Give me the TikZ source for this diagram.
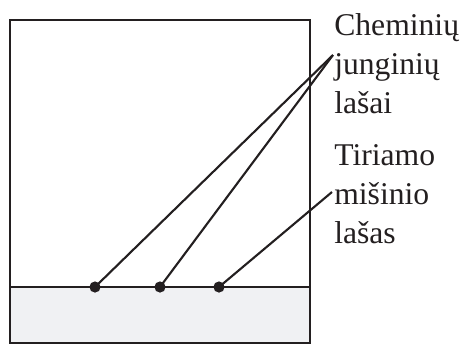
\documentclass[tikz,border=0pt]{standalone}
\usepackage{fontspec}
\setmainfont{Liberation Serif}
\usetikzlibrary{positioning}
\definecolor{gris}{HTML}{F0F1F3}
\definecolor{tinta}{HTML}{231F20}
\begin{document}
\begin{tikzpicture}[x=0.025cm,y=-0.025cm,
        caja/.style={draw=tinta,line width=1.6pt},
        gota/.style={circle,fill=tinta,inner sep=0pt,minimum size=0.28cm},
        f/.style={tinta,line width=1.5pt},
        t/.style={anchor=base west,align=left,inner sep=0pt,font=\fontsize{22.5}{27.5}\selectfont,text=tinta}]
        \useasboundingbox (0,0) rectangle (467,345);
        \fill[gris] (10,287) rectangle (310,343);
        \draw[caja] (10,20) rectangle (310,343);
        \draw[caja] (10,287) -- (310,287);
        \node[gota] (g1) at (95,287) {};
        \node[gota] (g2) at (160,287) {};
        \node[gota] (g3) at (219,287) {};
        \node[t] (jung) at (334,113) {Cheminių\\junginių\\lašai};
        \node[t] (mis) at (334,243) {Tiriamo\\mišinio\\lašas};
        \coordinate (pj) at (333,55);
        \coordinate (pm) at (332,192);
        \draw[f] (g1.center) -- (pj); \draw[f] (g2.center) -- (pj);
        \draw[f] (g3.center) -- (pm);
      \end{tikzpicture}
\end{document}
